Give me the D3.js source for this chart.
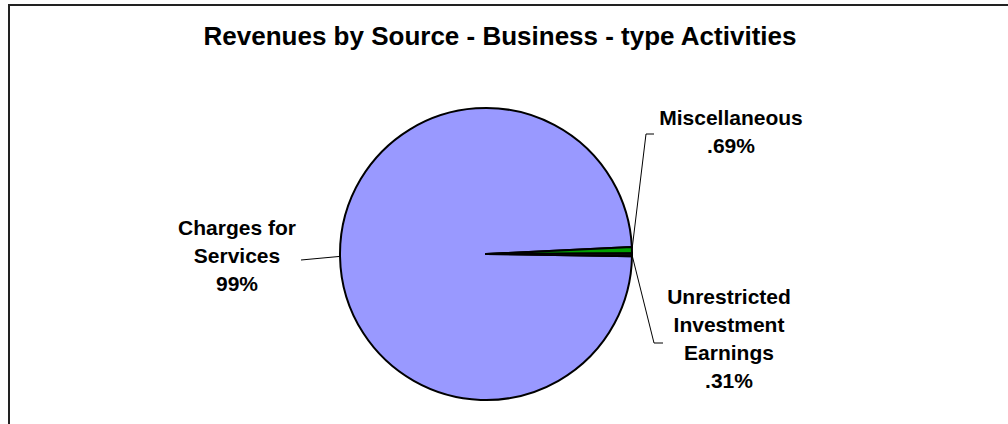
<html>
<head>
    <title>Revenues by Source</title>
    <style>
        body { margin: 0; background: #fff; }
        text { font-family: "Liberation Sans", Arial, sans-serif; font-weight: bold; fill: #000; }
    </style>
    <script src="https://cdn.jsdelivr.net/npm/d3@7"></script>
</head>
<body>
<script>
    var width = 1008
    var height = 424

    // data
    var categories = ["Charges for Services", "Miscellaneous", "Unrestricted Investment Earnings"]
    var values = [99, 0.69, 0.31]
    var labelLines = [
        ["Charges for", "Services", "99%"],
        ["Miscellaneous", ".69%"],
        ["Unrestricted", "Investment", "Earnings", ".31%"]
    ]
    var colors = ["#9999ff", "#00a000", "#101010"]

    // layout: where each label block sits, and the leader line bend
    var labelPos = [
        { x: 237, y: 235, bend: [301, 260], end: [301, 260] },
        { x: 731, y: 125, bend: [646, 134], end: [654, 134] },
        { x: 729, y: 304, bend: [654, 343], end: [663, 343] }
    ]

    var cx = 486, cy = 254, radius = 146
    var startAngle = Math.PI / 2 + 0.015

    var svg = d3.select("body").append("svg")
        .attr("width", width)
        .attr("height", height)

    // chart frame
    svg.append("rect")
        .attr("x", 9).attr("y", 5)
        .attr("width", width + 20).attr("height", height + 20)
        .attr("fill", "none")
        .attr("stroke", "#222")
        .attr("stroke-width", 2)

    svg.append("text")
        .attr("x", 500)
        .attr("y", 45)
        .attr("text-anchor", "middle")
        .attr("font-size", "26px")
        .text("Revenues by Source - Business - type Activities")

    var pie = d3.pie()
        .sort(null)
        .startAngle(startAngle)
        .endAngle(startAngle + 2 * Math.PI)

    var arcs = pie(values)
    var arc = d3.arc().innerRadius(0).outerRadius(radius)

    var g = svg.append("g").attr("transform", "translate(" + cx + "," + cy + ")")

    g.selectAll("path.slice")
        .data(arcs)
        .enter().append("path")
        .attr("class", "slice")
        .attr("d", arc)
        .attr("fill", function (d, i) { return colors[i] })
        .attr("stroke", "#000")
        .attr("stroke-width", 2)
        .attr("stroke-linejoin", "round")

    // leader lines + labels
    arcs.forEach(function (d, i) {
        var mid = (d.startAngle + d.endAngle) / 2
        var px = cx + radius * Math.sin(mid)
        var py = cy - radius * Math.cos(mid)
        var lp = labelPos[i]
        svg.append("polyline")
            .attr("points", [[px, py], lp.bend, lp.end].map(function (p) { return p.join(",") }).join(" "))
            .attr("fill", "none")
            .attr("stroke", "#000")
            .attr("stroke-width", 1)

        var t = svg.append("text")
            .attr("text-anchor", "middle")
            .attr("font-size", "21px")
        labelLines[i].forEach(function (line, k) {
            t.append("tspan")
                .attr("x", lp.x)
                .attr("y", lp.y + k * 28)
                .text(line)
        })
    })
</script>
</body>
</html>
